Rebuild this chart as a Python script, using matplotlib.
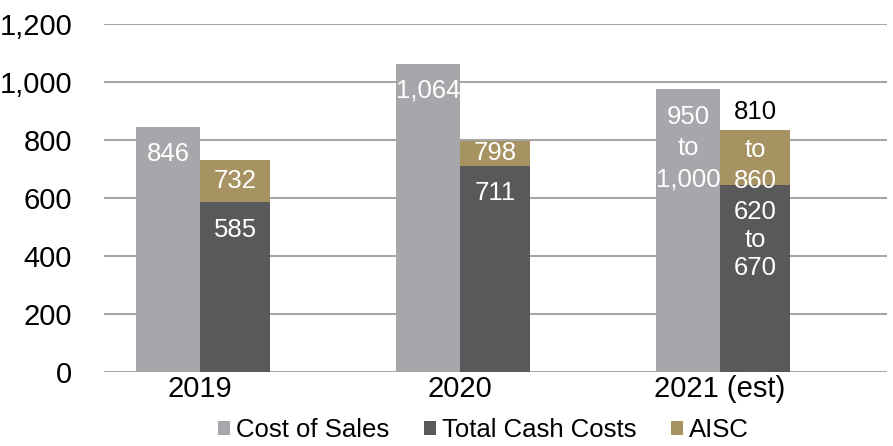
import matplotlib as mpl
mpl.use('Agg')
import matplotlib.pyplot as plt
import numpy as np

plt.rcParams['font.family'] = ['Liberation Sans', 'DejaVu Sans']

years = ['2019', '2020', '2021 (est)']
cost_of_sales = [846, 1064, 975]
total_cash_costs = [585, 711, 645]
aisc = [732, 798, 835]
cos_labels = ['846', '1,064', '950\nto\n1,000']
tcc_labels = ['585', '711', '620\nto\n670']
aisc_labels = ['732', '798', 'to\n860']

c_cos = '#a6a7aa'
c_tcc = '#59595b'
c_aisc = '#a79261'

fig = plt.figure(figsize=(8.93, 4.46), dpi=100)
ax = fig.add_axes([0.1165, 0.166, 0.8768, 0.78])

x = np.arange(len(years))
w1 = 0.245
w2 = 0.27
aisc_extra = [a - t for a, t in zip(aisc, total_cash_costs)]

b1 = ax.bar(x - w1, cost_of_sales, w1, align='edge', color=c_cos, label='Cost of Sales', zorder=2)
b2 = ax.bar(x, total_cash_costs, w2, align='edge', color=c_tcc, label='Total Cash Costs', zorder=2)
b3 = ax.bar(x, aisc_extra, w2, bottom=total_cash_costs, align='edge', color=c_aisc, label='AISC', zorder=2)

ax.set_ylim(0, 1200)
ax.set_xlim(-0.369, 2.642)
ax.set_yticks(range(0, 1201, 200))
ax.set_yticklabels(['{:,}'.format(v) for v in range(0, 1201, 200)])
ax.set_xticks(x)
ax.set_xticklabels(years)
ax.tick_params(length=0, labelsize=21, colors='black')
ax.tick_params(axis='y', pad=23)
ax.tick_params(axis='x', pad=2)
ax.grid(axis='y', color='#a6a6a6', linewidth=1.5, zorder=0)
for s in ax.spines.values():
    s.set_visible(False)

fs = 18.5
for i in range(len(years)):
    ax.annotate(cos_labels[i], (x[i] - w1 / 2, cost_of_sales[i]), xytext=(0, -11),
                textcoords='offset points', ha='center', va='top', color='white',
                fontsize=fs, linespacing=1.38, zorder=3)
    ax.annotate(tcc_labels[i], (x[i] + w2 / 2, total_cash_costs[i]), xytext=(0, -11),
                textcoords='offset points', ha='center', va='top', color='white',
                fontsize=fs, linespacing=1.2, zorder=3)
    if i < 2:
        # single-line AISC labels sit in the middle of the segment
        ax.text(x[i] + w2 / 2, (aisc[i] + total_cash_costs[i]) / 2, aisc_labels[i],
                ha='center', va='center', color='white', fontsize=fs, zorder=3)
    else:
        ax.annotate(aisc_labels[i], (x[i] + w2 / 2, aisc[i]), xytext=(0, -6),
                    textcoords='offset points', ha='center', va='top', color='white',
                    fontsize=fs, linespacing=1.35, zorder=3)
# top line of the 2021 AISC range sits above the bar
ax.annotate('810', (x[2] + w2 / 2, aisc[2]), xytext=(0, 4), textcoords='offset points',
            ha='center', va='bottom', color='black', fontsize=fs, zorder=3)

fig.legend(handles=[b1, b2, b3], loc='center', bbox_to_anchor=(0.541, 0.036), ncol=3,
           frameon=False, fontsize=18.5, handlelength=0.47, handleheight=0.47,
           handletextpad=0.23, columnspacing=1.35, borderpad=0)

plt.savefig('out.png', dpi=100)
